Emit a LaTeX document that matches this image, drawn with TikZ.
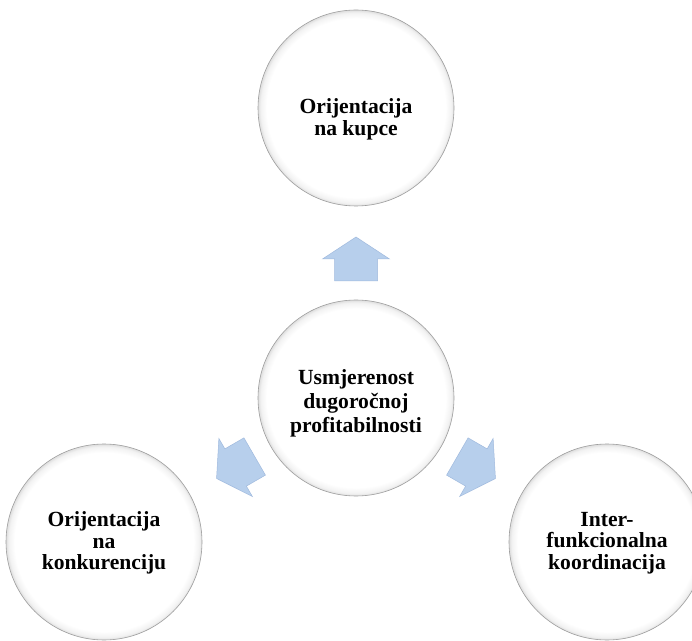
\documentclass[tikz,border=0pt]{standalone}
\usepackage{fontspec}
\setmainfont{Liberation Serif}
\usetikzlibrary{calc}
\pgfdeclareradialshading{bevel}{\pgfpoint{0bp}{0bp}}{color(0bp)=(white); color(22.8bp)=(white); color(24.3bp)=(black!5); color(25bp)=(black!13); color(50bp)=(black!13)}
\definecolor{arrfill}{RGB}{183,207,236}
\definecolor{arrline}{RGB}{160,186,222}
\tikzset{
  ball/.style={circle, minimum size=196pt, inner sep=0pt, shading=bevel, draw=black!38, line width=0.6pt},
  lbl/.style={align=center, inner sep=0pt, font=\bfseries\fontsize{21.6}{21.7}\selectfont},
  blockarrow/.style={fill=arrfill, draw=arrline, line width=0.5pt, line join=miter}
}
\begin{document}
\begin{tikzpicture}[x=1pt,y=1pt]
\clip (0,0) rectangle (692,640);
\fill[white] (0,0) rectangle (692,640);
% circles
\node[ball] (c) at (356,242) {};
\node[ball] (t) at (356,532) {};
\node[ball] (bl) at (104,98) {};
\node[ball] (br) at (607,98) {};
% texts
\node[lbl, font=\bfseries\fontsize{21.6}{24}\selectfont] (ct) at ($(c)+(0,-5)$) {Usmjerenost\\dugoročnoj\\profitabilnosti};
\node[lbl] (tt) at ($(t)+(0,-11)$) {Orijentacija\\na kupce};
\node[lbl] (blt) at ($(bl)+(0,-1)$) {Orijentacija\\na\\konkurenciju};
\node[lbl] (brt) at ($(br)+(0,-1)$) {Inter-\\funkcionalna\\koordinacija};
% block arrows
\foreach \ang in {90,210,330}{
  \begin{scope}[shift={(c.center)}, rotate=\ang]
    \path[blockarrow] (117,-21.5) -- (139,-21.5) -- (139,-33.5) -- (161,0) -- (139,33.5) -- (139,21.5) -- (117,21.5) -- cycle;
  \end{scope}
}
\end{tikzpicture}
\end{document}
